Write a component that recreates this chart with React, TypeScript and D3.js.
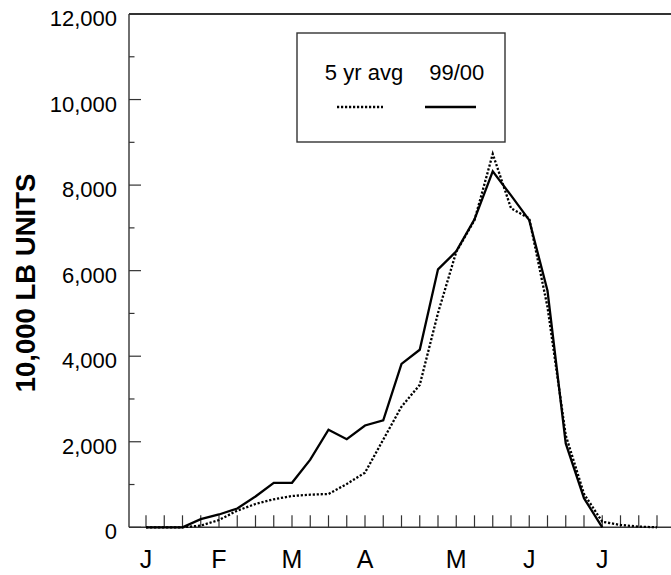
import React from 'react';
import * as d3 from 'd3';

// weekly values, index 0 = first week of January
const avg5yr = [0, 0, 0, 40, 170, 390, 545, 655, 732, 763, 779, 1013, 1278, 2050, 2820, 3330, 5010, 6440, 7180, 8730, 7460, 7220, 5150, 2150, 780, 130, 55, 15, 0];
const season9900 = [0, 0, 0, 190, 300, 440, 720, 1040, 1040, 1580, 2280, 2060, 2380, 2500, 3820, 4150, 6030, 6450, 7200, 8320, 7760, 7180, 5530, 1960, 680, 0];

const monthLabels = ['J', 'F', 'M', 'A', 'M', 'J', 'J'];
const monthWeeks = [0, 4, 8, 12, 17, 21, 25];
const weekCount = 29;
const yMajorTicks = [0, 2000, 4000, 6000, 8000, 10000, 12000];
const yMinorTicks = [1000, 3000, 5000, 7000, 9000, 11000];

const W = 671;
const H = 575;
const left = 129;
const top = 14;
const bottom = 527.3;
const font = '"Liberation Sans", Arial, sans-serif';
const axisColor = '#333';

export default function App() {
  const x = d3.scaleLinear().domain([0, weekCount - 1]).range([146, 657]);
  const y = d3.scaleLinear().domain([0, 12000]).range([bottom, top]);
  const fmt = d3.format(',');

  const line = d3
    .line<number>()
    .x((_, i) => x(i))
    .y((d) => y(d));

  return (
    <svg
      width={W}
      height={H}
      style={{ position: 'absolute', left: 0, top: 0, background: '#fff' }}
      fontFamily={font}
    >
      {/* frame */}
      <line x1={left} x2={W} y1={top} y2={top} stroke={axisColor} strokeWidth={2} />
      <line x1={left} x2={left} y1={top} y2={bottom} stroke={axisColor} strokeWidth={1.4} />
      <line x1={left} x2={W} y1={bottom} y2={bottom} stroke={axisColor} strokeWidth={1.4} />

      {/* y ticks */}
      {yMajorTicks.map((t) => (
        <g key={'ym' + t}>
          <line x1={left} x2={left + 12} y1={y(t)} y2={y(t)} stroke={axisColor} strokeWidth={1.2} />
          <text x={117} y={y(t) + 12} fontSize={22} textAnchor="end" fill="#000">
            {fmt(t)}
          </text>
        </g>
      ))}
      {yMinorTicks.map((t) => (
        <line key={'yn' + t} x1={left} x2={left + 5.5} y1={y(t)} y2={y(t)} stroke={axisColor} strokeWidth={1.2} />
      ))}

      {/* x ticks */}
      {d3.range(weekCount).map((i) => (
        <line key={'xt' + i} x1={x(i)} x2={x(i)} y1={bottom} y2={bottom - 12} stroke={axisColor} strokeWidth={1.2} />
      ))}
      {monthLabels.map((m, i) => (
        <text key={'xl' + i} x={x(monthWeeks[i])} y={568} fontSize={25} textAnchor="middle" fill="#000">
          {m}
        </text>
      ))}

      {/* y title */}
      <text
        transform="translate(35,283) rotate(-90)"
        fontSize={27.5}
        fontWeight="bold"
        textAnchor="middle"
        fill="#000"
      >
        10,000 LB UNITS
      </text>

      {/* series */}
      <path d={line(avg5yr) || ''} fill="none" stroke="#000" strokeWidth={2.3} strokeDasharray="2.2,1.8" />
      <path d={line(season9900) || ''} fill="none" stroke="#000" strokeWidth={2.3} strokeLinejoin="miter" />

      {/* legend */}
      <rect x={297} y={33} width={208} height={109} fill="#fff" stroke={axisColor} strokeWidth={1.4} />
      <text x={364} y={80} fontSize={22} textAnchor="middle" fill="#000">
        5 yr avg
      </text>
      <text x={456.7} y={80} fontSize={22} textAnchor="middle" fill="#000">
        99/00
      </text>
      <line x1={337} x2={383} y1={107} y2={107} stroke="#000" strokeWidth={2.3} strokeDasharray="2.2,1.8" />
      <line x1={425} x2={476} y1={107} y2={107} stroke="#000" strokeWidth={2.3} />
    </svg>
  );
}
